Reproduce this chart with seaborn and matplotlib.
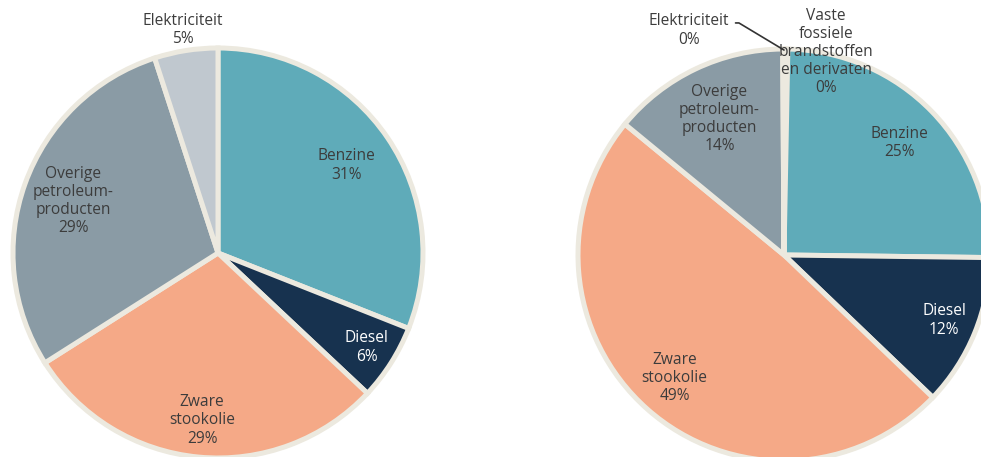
import numpy as np
import matplotlib
matplotlib.use("Agg")
import matplotlib.pyplot as plt
import seaborn as sns

sns.set_theme(style="white")
plt.rcParams['font.family'] = ['Open Sans', 'DejaVu Sans']

# ---- data ----
left_labels = ["Benzine", "Diesel", "Zware\nstookolie", "Overige\npetroleum-\nproducten", "Elektriciteit"]
left_values = [31, 6, 29, 29, 5]
left_pct = ["31%", "6%", "29%", "29%", "5%"]

right_labels = ["Vaste\nfossiele\nbrandstoffen\nen derivaten", "Benzine", "Diesel", "Zware\nstookolie",
                "Overige\npetroleum-\nproducten", "Elektriciteit"]
right_values = [0.3, 25, 12, 49, 14, 0.1]
right_pct = ["0%", "25%", "12%", "49%", "14%", "0%"]

color_map = {
    "Benzine": "#5FABB9",
    "Diesel": "#17324F",
    "Zware": "#F5A987",
    "Overige": "#8A9BA5",
    "Elektriciteit": "#C0C8CF",
    "Vaste": "#6F8290",
}
EDGE = "#ECE9DF"
TXT = "#3C3C3C"
FS = 11.2
LS = 1.18

W, H = 981, 457
fig = plt.figure(figsize=(W / 100, H / 100), dpi=100)
fig.patch.set_facecolor("white")

LIM = 1.05


def make_ax(cx, cy, r):
    half = r * LIM
    left = (cx - half) / W
    bottom = (H - cy - half) / H
    ax = fig.add_axes([left, bottom, 2 * half / W, 2 * half / H])
    return ax


def finish(ax):
    ax.set_aspect("auto")
    ax.set_xlim(-LIM, LIM)
    ax.set_ylim(-LIM, LIM)
    ax.axis("off")


def draw(ax, labels, values, pcts, dists, skip=()):
    cols = [color_map[l.split("\n")[0]] for l in labels]
    wedges, _ = ax.pie(values, colors=cols, startangle=90, counterclock=False,
                       radius=1.0, wedgeprops=dict(edgecolor=EDGE, linewidth=3.6))
    for w in wedges:
        w.set_clip_on(False)
    for i, w in enumerate(wedges):
        if i in skip:
            continue
        mid = np.deg2rad((w.theta1 + w.theta2) / 2)
        d = dists[i]
        x, y = d * np.cos(mid), d * np.sin(mid)
        name = labels[i].split("\n")[0]
        c = "white" if name == "Diesel" else TXT
        ax.text(x, y, labels[i] + "\n" + pcts[i], ha="center", va="center",
                fontsize=FS, color=c, linespacing=LS)
    finish(ax)
    return wedges


axL = make_ax(218, 253, 205)
draw(axL, left_labels, left_values, left_pct, [0.76, 0.86, 0.82, 0.75, 1.1])

axR = make_ax(784, 255, 206)
wr = draw(axR, right_labels, right_values, right_pct, [1.0, 0.78, 0.84, 0.80, 0.73, 1.1], skip=(0, 5))
axR.text(0.205, 0.985, right_labels[0] + "\n" + right_pct[0], ha="center", va="center",
         fontsize=FS, color=TXT, linespacing=LS)
axR.annotate("Elektriciteit\n0%", xy=(0.0, 0.995), xytext=(-0.46, 1.09),
             ha="center", va="center", fontsize=FS, color=TXT, linespacing=LS,
             annotation_clip=False,
             arrowprops=dict(arrowstyle="-", color="#333333", lw=1.2, relpos=(1.0, 0.72),
                             shrinkA=2, shrinkB=0,
                             connectionstyle="angle,angleA=0,angleB=-31,rad=0"))

fig.savefig("out.png", dpi=100, facecolor="white")
